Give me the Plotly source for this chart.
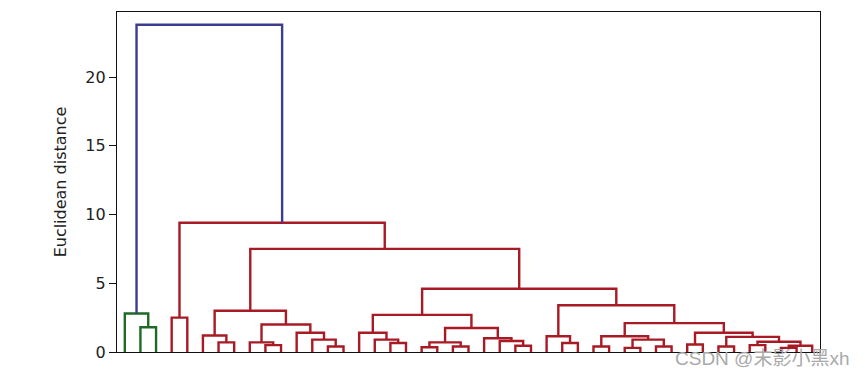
import plotly.graph_objects as go

# ---------------- data (linkage-style description of the dendrogram) ----------------
n_leaves = 45
# each merge joins two clusters (leaf ids 0..44, merged ids 45..)
merge_left = [1, 0, 3, 6, 5, 9, 8, 13, 12, 11, 51, 49, 17, 16, 15, 19, 21, 60, 25, 24,
              23, 62, 59, 28, 27, 30, 32, 34, 71, 70, 36, 38, 40, 42, 78, 77, 76, 75,
              74, 69, 67, 56, 47, 46]
merge_right = [2, 45, 4, 7, 48, 10, 50, 14, 52, 53, 54, 55, 18, 57, 58, 20, 22, 61, 26, 63,
               64, 65, 66, 29, 68, 31, 33, 35, 72, 73, 37, 39, 41, 43, 44, 79, 80, 81,
               82, 83, 84, 85, 86, 87]
merge_height = [1.8, 2.8, 2.5, 0.7, 1.2, 0.5, 0.7, 0.4, 0.9, 1.4, 2.0, 3.0, 0.65, 0.9, 1.4,
                0.35, 0.4, 0.7, 0.45, 0.8, 1.0, 1.75, 2.7, 0.65, 1.15, 0.4, 0.3, 0.4, 0.9,
                1.15, 0.55, 0.4, 0.5, 0.3, 0.45, 0.75, 1.1, 1.4, 2.1, 3.4, 4.6, 7.5, 9.4, 23.8]
merge_group = ["g", "g"] + ["r"] * 41 + ["b"]

y_ticks = [0, 5, 10, 15, 20]
y_title = "Euclidean distance"
watermark = "CSDN @末影小黑xh"

group_colors = {"g": "#1f6a26", "r": "#a81a24", "b": "#3b3e8e"}

# ---------------- build dendrogram segments ----------------
node_x = {i: 5 + 10 * i for i in range(n_leaves)}
node_h = {i: 0.0 for i in range(n_leaves)}
segs = {"g": ([], []), "r": ([], []), "b": ([], [])}
for k, (a, b, h, g) in enumerate(zip(merge_left, merge_right, merge_height, merge_group)):
    xa, xb = node_x[a], node_x[b]
    xs, ys = segs[g]
    xs += [xa, xa, xb, xb, None]
    ys += [node_h[a], h, h, node_h[b], None]
    nid = n_leaves + k
    node_x[nid] = (xa + xb) / 2
    node_h[nid] = h

fig = go.Figure()
for g in ["r", "g", "b"]:
    xs, ys = segs[g]
    fig.add_trace(go.Scatter(x=xs, y=ys, mode="lines",
                             line=dict(color=group_colors[g], width=2.4),
                             hoverinfo="skip", showlegend=False))

fig.add_annotation(text=watermark, xref="paper", yref="paper", x=0.917, y=-0.02,
                   xanchor="center", yanchor="middle", showarrow=False,
                   font=dict(family="Liberation Sans, Noto Sans CJK SC", size=19, color="#a9a9a9"))

fig.update_layout(
    width=865, height=377,
    margin=dict(l=109, r=53, t=4, b=33),
    paper_bgcolor="white", plot_bgcolor="white",
    font=dict(family="DejaVu Sans", size=16, color="#222222"),
    xaxis=dict(range=[0, 10 * n_leaves], showgrid=False, zeroline=False,
               showticklabels=False, ticks="", showline=True, mirror=True,
               linecolor="#111111", linewidth=1.4),
    yaxis=dict(range=[0, 24.73], showgrid=False, zeroline=False,
               tickvals=y_ticks, ticks="outside", ticklen=7, tickwidth=1.2,
               tickcolor="#111111", showline=True, mirror=True,
               linecolor="#111111", linewidth=1.4,
               title=dict(text=y_title, standoff=14, font=dict(size=16))),
)

fig.write_html("out.html")
